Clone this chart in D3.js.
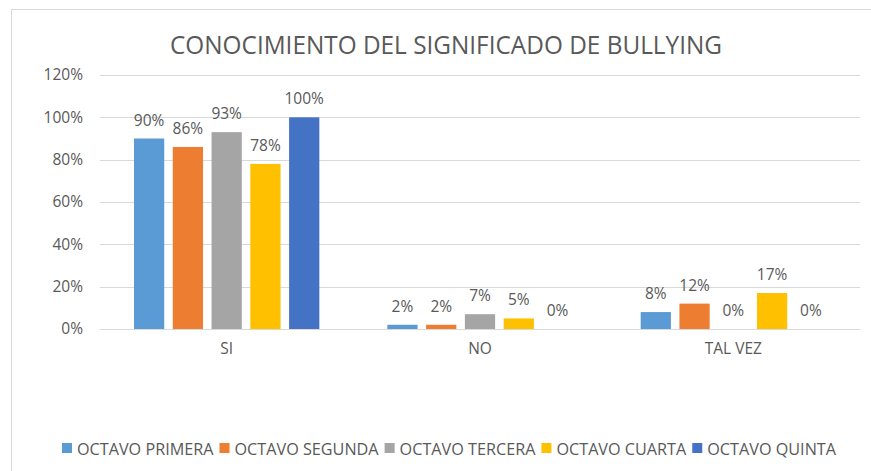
<!DOCTYPE html>
<html>
<head>
<meta charset="utf-8">
<script src="https://cdn.jsdelivr.net/npm/d3@7"></script>
<style>
  html, body { margin: 0; padding: 0; background: #fff; }
  svg { display: block; }
  text { font-family: "Open Sans", "Noto Sans", sans-serif; fill: #595959; }
</style>
</head>
<body>
<div id="vizHolder"></div>
<script>
var categories = ['SI', 'NO', 'TAL VEZ'];
var seriesNames = ['OCTAVO PRIMERA', 'OCTAVO SEGUNDA', 'OCTAVO TERCERA', 'OCTAVO CUARTA', 'OCTAVO QUINTA'];
var octavoPrimera = [0.90, 0.02, 0.08];
var octavoSegunda = [0.86, 0.02, 0.12];
var octavoTercera = [0.93, 0.07, 0.00];
var octavoCuarta  = [0.78, 0.05, 0.17];
var octavoQuinta  = [1.00, 0.00, 0.00];
var colors = ['#5b9bd5', '#ed7d31', '#a5a5a5', '#ffc000', '#4472c4'];
var yTicks = [0, 0.2, 0.4, 0.6, 0.8, 1.0, 1.2];
var title = 'CONOCIMIENTO DEL SIGNIFICADO DE BULLYING';

var series = [octavoPrimera, octavoSegunda, octavoTercera, octavoCuarta, octavoQuinta];
var width = 871, height = 471;
var plot = { left: 100, right: 860, top: 75, bottom: 329 };
var labelSize = 15.5;

var svg = d3.select('#vizHolder').append('svg')
	.attr('width', width)
	.attr('height', height);

// chart frame
svg.append('rect')
	.attr('x', 11.5).attr('y', 9.5)
	.attr('width', 900).attr('height', 500)
	.attr('fill', '#fff')
	.attr('stroke', '#d9d9d9');

svg.append('text')
	.attr('x', 446).attr('y', 54)
	.attr('text-anchor', 'middle')
	.attr('font-size', 25)
	.attr('textLength', 552)
	.attr('lengthAdjust', 'spacingAndGlyphs')
	.text(title);

var x0 = d3.scaleBand()
	.domain(categories)
	.range([plot.left, plot.right]);

var x1 = d3.scaleBand()
	.domain(d3.range(seriesNames.length))
	.range([34, x0.bandwidth() - 34])
	.paddingInner(0.22);

var y = d3.scaleLinear()
	.domain([0, 1.2])
	.range([plot.bottom, plot.top]);

// gridlines
svg.append('g')
	.selectAll('line')
	.data(yTicks)
	.enter()
	.append('line')
	.attr('x1', plot.left).attr('x2', plot.right)
	.attr('y1', function(d){ return Math.round(y(d)) + 0.5; })
	.attr('y2', function(d){ return Math.round(y(d)) + 0.5; })
	.attr('stroke', '#d9d9d9')
	.attr('stroke-width', 1);

// y axis labels
var yAxis = svg.append('g')
	.attr('transform', 'translate(' + (plot.left - 17) + ',0)')
	.call(d3.axisLeft(y).tickValues(yTicks).tickSize(0).tickPadding(0).tickFormat(d3.format('.0%')));
yAxis.select('.domain').remove();
yAxis.selectAll('text')
	.attr('font-size', labelSize)
	.attr('fill', '#595959')
	.style('font-family', '"Open Sans", sans-serif');

// x axis labels
var xAxis = svg.append('g')
	.attr('transform', 'translate(0,' + plot.bottom + ')')
	.call(d3.axisBottom(x0).tickSize(0).tickPadding(14));
xAxis.select('.domain').remove();
xAxis.selectAll('text')
	.attr('font-size', labelSize)
	.attr('fill', '#595959')
	.style('font-family', '"Open Sans", sans-serif');

// bars
var groups = svg.append('g')
	.selectAll('g')
	.data(series)
	.enter()
	.append('g')
	.attr('fill', function(d, i){ return colors[i]; });

groups.selectAll('rect')
	.data(function(d, i){ return d.map(function(v, j){ return { s: i, c: categories[j], v: v }; }); })
	.enter()
	.append('rect')
	.attr('x', function(d){ return x0(d.c) + x1(d.s); })
	.attr('y', function(d){ return y(d.v); })
	.attr('width', x1.bandwidth())
	.attr('height', function(d){ return y(0) - y(d.v); });

groups.selectAll('text')
	.data(function(d, i){ return d.map(function(v, j){ return { s: i, c: categories[j], v: v }; }); })
	.enter()
	.append('text')
	.attr('x', function(d){ return x0(d.c) + x1(d.s) + x1.bandwidth() / 2; })
	.attr('y', function(d){ return y(d.v) - 13; })
	.attr('text-anchor', 'middle')
	.attr('font-size', labelSize)
	.attr('fill', '#595959')
	.text(function(d){ return d3.format('.0%')(d.v); });

// legend
var legend = svg.append('g');
var items = legend.selectAll('g')
	.data(seriesNames)
	.enter()
	.append('g');
items.append('rect')
	.attr('width', 10).attr('height', 10)
	.attr('y', 443)
	.attr('fill', function(d, i){ return colors[i]; });
var labels = items.append('text')
	.attr('y', 454.5)
	.attr('font-size', 16.5)
	.text(function(d){ return d; });

var widths = [];
labels.each(function(){ widths.push(this.getComputedTextLength()); });
var legendStart = 62, legendEnd = 836, sym = 15, gap = 6;
var avail = legendEnd - legendStart - seriesNames.length * sym - (seriesNames.length - 1) * gap;
var k = avail / d3.sum(widths);
var pos = legendStart;
items.each(function(d, i){
	var g = d3.select(this);
	g.select('rect').attr('x', pos);
	g.select('text').attr('x', pos + sym)
		.attr('textLength', widths[i] * k)
		.attr('lengthAdjust', 'spacingAndGlyphs');
	pos += sym + widths[i] * k + gap;
});
</script>
</body>
</html>
